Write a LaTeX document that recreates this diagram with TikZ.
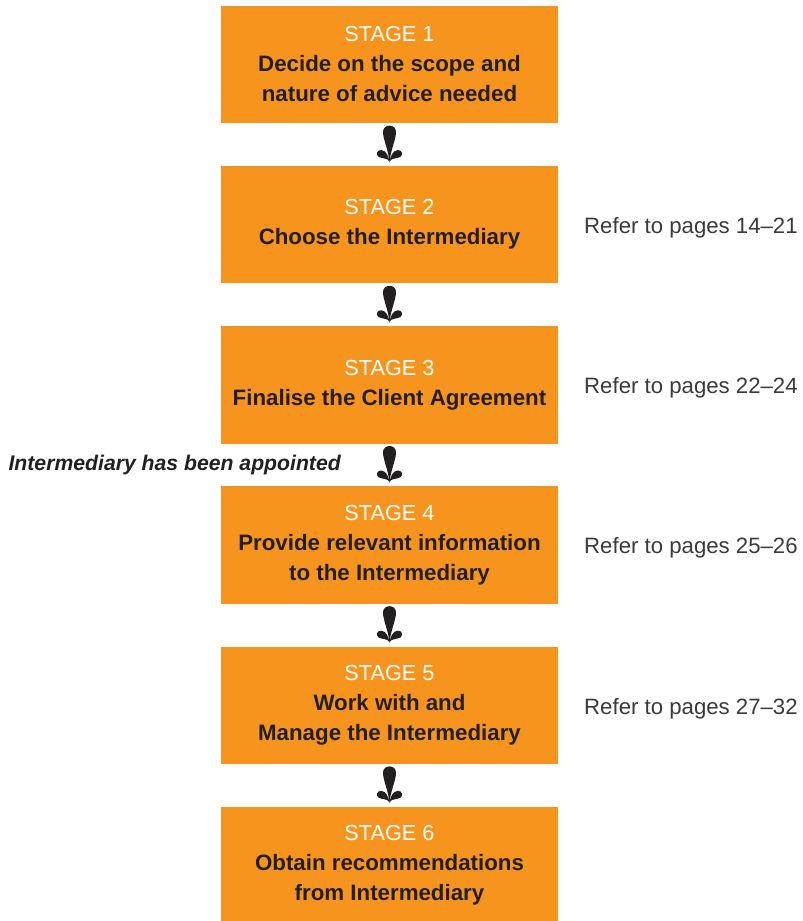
\documentclass[tikz,border=0pt]{standalone}
\usepackage{fontspec}
\setmainfont{Liberation Sans}
\definecolor{stageorange}{HTML}{F7941D}
\definecolor{inkdark}{HTML}{231F20}
\definecolor{notegray}{HTML}{3A3A3A}
\tikzset{
  stagebox/.style={fill=stageorange, minimum width=337pt, minimum height=117.5pt,
    inner sep=0pt, align=center, text=inkdark, font=\fontsize{22.3}{30}\selectfont\bfseries},
  pagenote/.style={anchor=west, inner sep=0pt, text=notegray, yshift=-3pt, font=\fontsize{22.2}{24}\selectfont},
  fleuron/.pic={
    \fill[inkdark] (0,18) .. controls (0.8,6) and (6.8,-6) .. (6.5,-13)
       .. controls (6.2,-21) and (-6.2,-21) .. (-6.5,-13)
       .. controls (-6.8,-6) and (-0.8,6) .. (0,18) -- cycle;
    \fill[inkdark] (0,17) .. controls (-1,12) and (-3,6) .. (-8,5.5)
       .. controls (-12.5,5) and (-14,10) .. (-11,12.2)
       .. controls (-7,14.5) and (-2,13) .. (0,17) -- cycle;
    \fill[inkdark] (0,17) .. controls (1,12) and (3,6) .. (8,5.5)
       .. controls (12.5,5) and (14,10) .. (11,12.2)
       .. controls (7,14.5) and (2,13) .. (0,17) -- cycle;
  }
}
\newcommand{\stg}[1]{{\mdseries\fontsize{21.7}{30}\selectfont\color{white}#1}}
\begin{document}
\begin{tikzpicture}[x=1pt,y=-1pt]
\useasboundingbox (0,0) rectangle (803,921);
\node[stagebox] (s1) at (389.5,64.5) {\stg{STAGE 1}\\Decide on the scope and\\nature of advice needed};
\node[stagebox] (s2) at (389.5,224.7) {\stg{STAGE 2}\\Choose the Intermediary};
\node[stagebox] (s3) at (389.5,384.9) {\stg{STAGE 3}\\Finalise the Client Agreement};
\node[stagebox] (s4) at (389.5,545.1) {\stg{STAGE 4}\\Provide relevant information\\to the Intermediary};
\node[stagebox] (s5) at (389.5,705.3) {\stg{STAGE 5}\\Work with and\\Manage the Intermediary};
\node[stagebox] (s6) at (389.5,865.5) {\stg{STAGE 6}\\Obtain recommendations\\from Intermediary};
\path (s1.south) -- (s2.north) pic[pos=0.5]{fleuron};
\path (s2.south) -- (s3.north) pic[pos=0.5]{fleuron};
\path (s3.south) -- (s4.north) pic[pos=0.5]{fleuron};
\path (s4.south) -- (s5.north) pic[pos=0.5]{fleuron};
\path (s5.south) -- (s6.north) pic[pos=0.5]{fleuron};
\node[pagenote] (p2) at (584,0 |- s2) {Refer to pages 14--21};
\node[pagenote] (p3) at (584,0 |- s3) {Refer to pages 22--24};
\node[pagenote] (p4) at (584,0 |- s4) {Refer to pages 25--26};
\node[pagenote] (p5) at (584,0 |- s5) {Refer to pages 27--32};
\node[anchor=east, inner sep=0pt, text=inkdark, font=\fontsize{21.2}{24}\selectfont\bfseries\itshape] (appt) at (341,465) {Intermediary has been appointed};
\end{tikzpicture}
\end{document}
